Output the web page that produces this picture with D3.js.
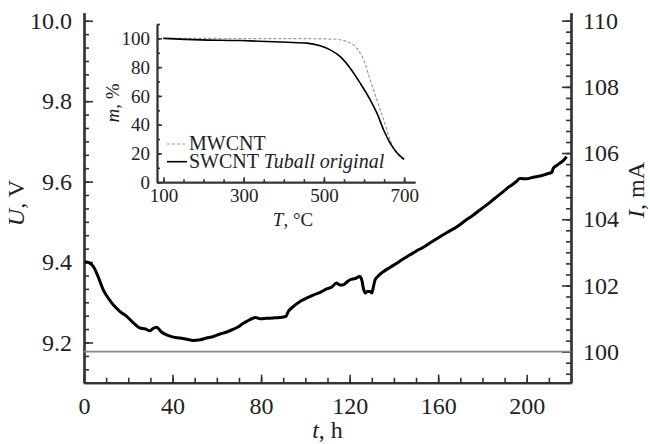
<!DOCTYPE html>
<html><head><meta charset="utf-8">
<script src="https://cdn.jsdelivr.net/npm/d3@7"></script>
<style>
body{margin:0;background:#fff;}
svg text{font-family:"Liberation Serif","Times New Roman",serif;fill:#222;}
</style></head>
<body><svg id="c" width="650" height="444"></svg>
<script>
// ---- main data: voltage U (V) vs time t (h)
const timeH = [0.3,2,4.2,6.5,8.7,11,13.2,16.3,19.3,22.3,25.3,27.5,29.8,31,32.8,35,37.3,40,43.4,46.5,49.4,52.5,55.4,58.5,61.4,64.5,67.5,70,72,74,75.8,77.5,79.5,82.5,85.5,88.5,91.2,92.3,94.5,97.6,100.5,103.6,106.5,109.6,112,114,115.5,117,118.5,120.2,122.5,124.6,125.5,126.2,127,128,129.2,130,130.8,131.5,133,135.2,138,141.3,144,147.3,150,153.3,157,160.8,164.5,168.3,172,175.9,179,181.9,185.5,189.4,191.5,193.9,195.5,196.9,198.5,199.9,203,206,209,211.3,212,213.5,215,216.5,218];
const voltageU = [9.401,9.399,9.389,9.362,9.331,9.31,9.294,9.277,9.265,9.249,9.236,9.234,9.229,9.234,9.238,9.226,9.219,9.214,9.211,9.208,9.205,9.207,9.211,9.215,9.221,9.226,9.233,9.24,9.248,9.254,9.259,9.262,9.259,9.26,9.261,9.262,9.265,9.277,9.289,9.302,9.31,9.318,9.324,9.333,9.338,9.348,9.343,9.343,9.349,9.356,9.359,9.364,9.355,9.335,9.323,9.327,9.327,9.323,9.34,9.356,9.366,9.376,9.386,9.397,9.407,9.418,9.427,9.437,9.45,9.463,9.475,9.487,9.502,9.517,9.53,9.542,9.558,9.575,9.585,9.594,9.601,9.608,9.607,9.607,9.611,9.614,9.619,9.623,9.633,9.64,9.646,9.652,9.662];
// current I (mA), constant
const currentT = [0,220];
const currentI = [100,100];
// ---- inset data: TGA mass m (%) vs temperature T (°C)
const swT = [100,191.5,291,357.8,407.7,457.6,490.8,515.7,540.7,565.6,590.6,615.5,632.2,648.8,665.4,682,700];
const swM = [100,98.96,98.5,97.8,97.3,96.7,94.8,92,87.3,79.3,68.8,57.2,48,36.3,27,20.5,15.9];
const mwT = [100,300,441,524,557,582,599,615.5,632,649,665,682,697];
const mwM = [100,99.9,99.8,99.5,97.8,93,85,71,57.2,43.3,29.4,20,16];
// ---- tick labels
const uTicks = [9.2,9.4,9.6,9.8,10.0];
const iTicks = [100,102,104,106,108,110];
const tTicks = [0,40,80,120,160,200];
const insetTTicks = [100,300,500,700];
const insetMTicks = [0,20,40,60,80,100];

const svg = d3.select("#c");
const L=84,R=571,T=12.7,B=382.7;
const x = d3.scaleLinear().domain([0,220]).range([L,R]);
const yU = d3.scaleLinear().domain([9.1,10.02]).range([B,T]);
const yI = d3.scaleLinear().domain([99.063,110.24]).range([B,T]);

function styleAxis(g,sw){
  g.selectAll("path.domain").attr("stroke","#333").attr("stroke-width",sw);
  g.selectAll(".tick line").attr("stroke","#333").attr("stroke-width",1.6);
}
const uMinor = d3.range(0,28).map(i=>9.1+i/30).filter(v=>v<=10.02);
const iMinor = d3.range(0,34).map(i=>99+i/3+1/3).filter(v=>v>=99.06&&v<=110.24);
const tMinor = d3.range(0,23).map(i=>i*10);

let g = svg.append("g").attr("transform",`translate(${L},0)`)
  .call(d3.axisLeft(yU).tickValues(uMinor).tickSize(-5).tickSizeOuter(0).tickFormat(""));
styleAxis(g,2.2);
g = svg.append("g").attr("transform",`translate(${L},0)`)
  .call(d3.axisLeft(yU).tickValues(uTicks).tickSize(-9).tickSizeOuter(0).tickPadding(12).tickFormat(d3.format(".1f")));
styleAxis(g,2.2); g.selectAll("text").attr("font-size",24).attr("font-family",null).attr("fill","#333");
g = svg.append("g").attr("transform",`translate(${R},0)`)
  .call(d3.axisRight(yI).tickValues(iMinor).tickSize(-5).tickSizeOuter(0).tickFormat(""));
styleAxis(g,2.2);
g = svg.append("g").attr("transform",`translate(${R},0)`)
  .call(d3.axisRight(yI).tickValues(iTicks).tickSize(-9).tickSizeOuter(0).tickPadding(12).tickFormat(d3.format("d")));
styleAxis(g,2.2); g.selectAll("text").attr("font-size",24).attr("font-family",null).attr("fill","#333");
g = svg.append("g").attr("transform",`translate(0,${B})`)
  .call(d3.axisBottom(x).tickValues(tMinor).tickSize(-5).tickSizeOuter(0).tickFormat(""));
styleAxis(g,2.2);
g = svg.append("g").attr("transform",`translate(0,${B})`)
  .call(d3.axisBottom(x).tickValues(tTicks).tickSize(-8).tickSizeOuter(0).tickPadding(14).tickFormat(d3.format("d")));
styleAxis(g,2.2); g.selectAll("text").attr("font-size",24).attr("font-family",null).attr("fill","#333");

svg.append("path").datum(currentT.map((t,i)=>[t,currentI[i]]))
  .attr("fill","none").attr("stroke","#888").attr("stroke-width",1.8)
  .attr("d",d3.line().x(d=>x(d[0])).y(d=>yI(d[1])));
svg.append("path").datum(timeH.map((t,i)=>[t,voltageU[i]]))
  .attr("fill","none").attr("stroke","#000").attr("stroke-width",3).attr("stroke-linejoin","round")
  .attr("d",d3.line().curve(d3.curveMonotoneX).x(d=>x(d[0])).y(d=>yU(d[1])));

function title(xp,yp,rot,it,rest,fs){
  const t=svg.append("text").attr("font-size",fs).attr("text-anchor","middle")
    .attr("transform",`translate(${xp},${yp}) rotate(${rot})`);
  t.append("tspan").attr("font-style","italic").text(it);
  t.append("tspan").text(rest);
}
title(24,203,-90,"U",", V",24);
title(644,190,-90,"I",", mA",24);
title(327.5,438,0,"t",", h",24);

// ---- inset
const ix = d3.scaleLinear().domain([84,727]).range([157,415]);
const iy = d3.scaleLinear().domain([0,110]).range([182.2,24]);
g = svg.append("g").attr("transform","translate(157,0)")
  .call(d3.axisLeft(iy).tickValues(d3.range(0,111,10)).tickSize(-3).tickSizeOuter(0).tickFormat(""));
styleAxis(g,1.8);
g = svg.append("g").attr("transform","translate(157,0)")
  .call(d3.axisLeft(iy).tickValues(insetMTicks).tickSize(-5).tickSizeOuter(0).tickPadding(7).tickFormat(d3.format("d")));
styleAxis(g,1.8); g.selectAll("text").attr("font-size",19).attr("font-family",null).attr("fill","#333");
g = svg.append("g").attr("transform","translate(0,182.2)")
  .call(d3.axisBottom(ix).tickValues(d3.range(100,701,50)).tickSize(-3).tickSizeOuter(0).tickFormat(""));
styleAxis(g,1.8);
g = svg.append("g").attr("transform","translate(0,182.2)")
  .call(d3.axisBottom(ix).tickValues(insetTTicks).tickSize(-5).tickSizeOuter(0).tickPadding(6).tickFormat(d3.format("d")));
styleAxis(g,1.8); g.selectAll("text").attr("font-size",19).attr("font-family",null).attr("fill","#333");

svg.append("path").datum(mwT.map((t,i)=>[t,mwM[i]]))
  .attr("fill","none").attr("stroke","#999").attr("stroke-width",1.2).attr("stroke-dasharray","3,2")
  .attr("d",d3.line().curve(d3.curveMonotoneX).x(d=>ix(d[0])).y(d=>iy(d[1])));
svg.append("path").datum(swT.map((t,i)=>[t,swM[i]]))
  .attr("fill","none").attr("stroke","#000").attr("stroke-width",1.6)
  .attr("d",d3.line().curve(d3.curveMonotoneX).x(d=>ix(d[0])).y(d=>iy(d[1])));

title(119,103,-90,"m",", %",19);
title(293,226,0,"T",", °C",19);

svg.append("line").attr("x1",167).attr("x2",187).attr("y1",144).attr("y2",144)
  .attr("stroke","#999").attr("stroke-width",1.2).attr("stroke-dasharray","3,2");
svg.append("text").attr("x",189).attr("y",150).attr("font-size",20).text("MWCNT");
svg.append("line").attr("x1",167).attr("x2",187).attr("y1",161.7).attr("y2",161.7)
  .attr("stroke","#000").attr("stroke-width",1.6);
const lt = svg.append("text").attr("x",189).attr("y",168).attr("font-size",20);
lt.append("tspan").text("SWCNT ");
lt.append("tspan").attr("font-style","italic").text("Tuball original");
</script></body></html>
